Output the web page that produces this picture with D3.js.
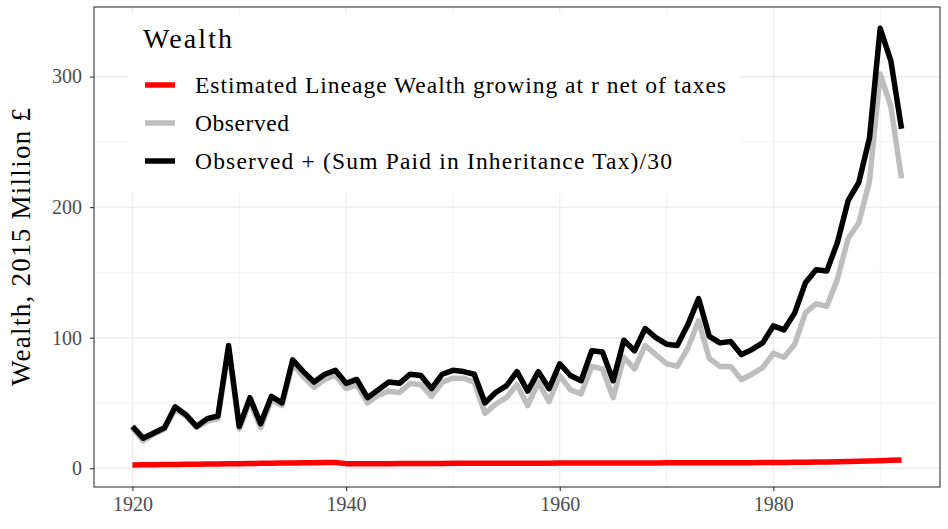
<!DOCTYPE html>
<html>
<head>
<meta charset="utf-8">
<script src="https://cdn.jsdelivr.net/npm/d3@7"></script>
<style>
  body { margin: 0; background: #fff; }
  text { font-family: "Liberation Serif", "DejaVu Serif", serif; }
</style>
</head>
<body>
<script>
// data
const years = d3.range(1920, 1993);

// Observed + (Sum Paid in Inheritance Tax)/30
const observedPlusTax = [
  32, 23, 27, 31, 47, 41, 32, 38, 40, 94,
  32, 54, 34, 55, 50, 83, 74, 66, 72, 75,
  65, 68, 54, 60, 66, 65, 72, 71, 61, 72,
  75, 74, 72, 50, 58, 63, 74, 59, 74, 61,
  80, 71, 67, 90, 89, 67, 98, 90, 107, 100,
  95, 94, 110, 130, 101, 96, 97, 87, 91, 96,
  109, 106, 119, 142, 152, 151, 173, 205, 219, 253,
  337, 312, 260
];

// Observed
const observed = [
  31, 21, 26, 30, 45, 40, 31, 36, 38, 91,
  30, 51, 31, 52, 48, 80, 70, 62, 68, 71,
  61, 64, 50, 56, 59, 58, 65, 64, 55, 66,
  69, 69, 66, 42, 49, 54, 64, 48, 66, 51,
  71, 60, 57, 78, 76, 54, 85, 76, 94, 87,
  80, 78, 92, 113, 84, 78, 78, 68, 72, 77,
  88, 85, 95, 119, 126, 124, 145, 176, 188, 220,
  302, 277, 222
];

// Estimated Lineage Wealth growing at r net of taxes
const lineage = [
  2.5, 2.6, 2.7, 2.8, 2.9, 3.0, 3.1, 3.2, 3.3, 3.4,
  3.5, 3.6, 3.7, 3.8, 3.9, 4.0, 4.1, 4.2, 4.3, 4.3,
  3.5, 3.5, 3.5, 3.5, 3.5, 3.6, 3.6, 3.6, 3.6, 3.6,
  3.7, 3.7, 3.7, 3.7, 3.7, 3.8, 3.8, 3.8, 3.8, 3.8,
  3.9, 3.9, 3.9, 3.9, 3.9, 4.0, 4.0, 4.0, 4.0, 4.0,
  4.1, 4.1, 4.1, 4.1, 4.1, 4.2, 4.2, 4.2, 4.2, 4.3,
  4.3, 4.4, 4.5, 4.6, 4.7, 4.8, 5.0, 5.2, 5.4, 5.6,
  5.8, 6.0, 6.2
];

const seriesNames = [
  'Estimated Lineage Wealth growing at r net of taxes',
  'Observed',
  'Observed + (Sum Paid in Inheritance Tax)/30'
];
const seriesColors = ['#ff0000', '#bebebe', '#000000'];
const seriesValues = [lineage, observed, observedPlusTax];

const xMajor = [1920, 1940, 1960, 1980];
const xMinor = [1930, 1950, 1970, 1990];
const yMajor = [0, 100, 200, 300];
const yMinor = [50, 150, 250];

// canvas
let width = 948;
let height = 529;
let panel = { left: 94, right: 940, top: 7, bottom: 487 };

let svg = d3.select('body').append('svg')
   .attr('width', width)
   .attr('height', height);

let xScale = d3.scaleLinear()
   .domain([1916.4, 1995.6])
   .range([panel.left, panel.right]);
let yScale = d3.scaleLinear()
   .domain([-14.4, 353.3])
   .range([panel.bottom, panel.top]);

// grid lines
let grid = svg.append('g');
grid.selectAll('.vminor').data(xMinor).enter().append('line')
   .attr('x1', d => xScale(d)).attr('x2', d => xScale(d))
   .attr('y1', panel.top).attr('y2', panel.bottom)
   .attr('stroke', '#ebebeb').attr('stroke-width', 0.6);
grid.selectAll('.hminor').data(yMinor).enter().append('line')
   .attr('x1', panel.left).attr('x2', panel.right)
   .attr('y1', d => yScale(d)).attr('y2', d => yScale(d))
   .attr('stroke', '#ebebeb').attr('stroke-width', 0.6);
grid.selectAll('.vmajor').data(xMajor).enter().append('line')
   .attr('x1', d => xScale(d)).attr('x2', d => xScale(d))
   .attr('y1', panel.top).attr('y2', panel.bottom)
   .attr('stroke', '#ebebeb').attr('stroke-width', 1.2);
grid.selectAll('.hmajor').data(yMajor).enter().append('line')
   .attr('x1', panel.left).attr('x2', panel.right)
   .attr('y1', d => yScale(d)).attr('y2', d => yScale(d))
   .attr('stroke', '#ebebeb').attr('stroke-width', 1.2);

// lines
let line = d3.line()
   .x((d, i) => xScale(years[i]))
   .y(d => yScale(d));

svg.selectAll('.series')
   .data(seriesValues)
   .enter()
   .append('path')
   .attr('d', d => line(d))
   .attr('fill', 'none')
   .attr('stroke', (d, i) => seriesColors[i])
   .attr('stroke-width', 5.5)
   .attr('stroke-linejoin', 'round');

// legend (sits inside the panel with a white box)
let legend = svg.append('g');
legend.append('rect')
   .attr('x', 128).attr('y', 14)
   .attr('width', 612).attr('height', 179)
   .attr('fill', '#fff');
legend.append('text')
   .attr('x', 143).attr('y', 48)
   .attr('font-size', 28)
   .attr('textLength', 89)
   .attr('lengthAdjust', 'spacing')
   .text('Wealth');
let labelWidths = [531, 94, 477];
seriesNames.forEach((name, i) => {
   let ly = 85 + i * 38;
   legend.append('line')
      .attr('x1', 145).attr('x2', 175)
      .attr('y1', ly).attr('y2', ly)
      .attr('stroke', seriesColors[i])
      .attr('stroke-width', 5.5);
   legend.append('text')
      .attr('x', 195).attr('y', ly + 7.5)
      .attr('font-size', 23.5)
      .attr('textLength', labelWidths[i])
      .attr('lengthAdjust', 'spacing')
      .text(name);
});

// panel border
svg.append('rect')
   .attr('x', panel.left).attr('y', panel.top)
   .attr('width', panel.right - panel.left)
   .attr('height', panel.bottom - panel.top)
   .attr('fill', 'none')
   .attr('stroke', '#333333')
   .attr('stroke-width', 1.1);

// axes
let xAxis = d3.axisBottom(xScale).tickValues(xMajor).tickFormat(d3.format('d')).tickSize(4).tickPadding(6);
let yAxis = d3.axisLeft(yScale).tickValues(yMajor).tickSize(4).tickPadding(8);

let gx = svg.append('g')
   .attr('transform', 'translate(0,' + panel.bottom + ')')
   .call(xAxis);
let gy = svg.append('g')
   .attr('transform', 'translate(' + panel.left + ',0)')
   .call(yAxis);

[gx, gy].forEach(g => {
   g.select('.domain').remove();
   g.selectAll('line').attr('stroke', '#333333').attr('stroke-width', 1.1);
   g.selectAll('text')
      .attr('fill', '#4d4d4d')
      .attr('font-size', 20)
      .style('font-family', '"Liberation Serif", serif');
});

// y axis caption
svg.append('text')
   .attr('transform', 'translate(30,' + ((panel.top + panel.bottom) / 2) + ') rotate(-90)')
   .attr('text-anchor', 'middle')
   .attr('font-size', 27)
   .attr('textLength', 278)
   .attr('lengthAdjust', 'spacing')
   .text('Wealth, 2015 Million £');
</script>
</body>
</html>
